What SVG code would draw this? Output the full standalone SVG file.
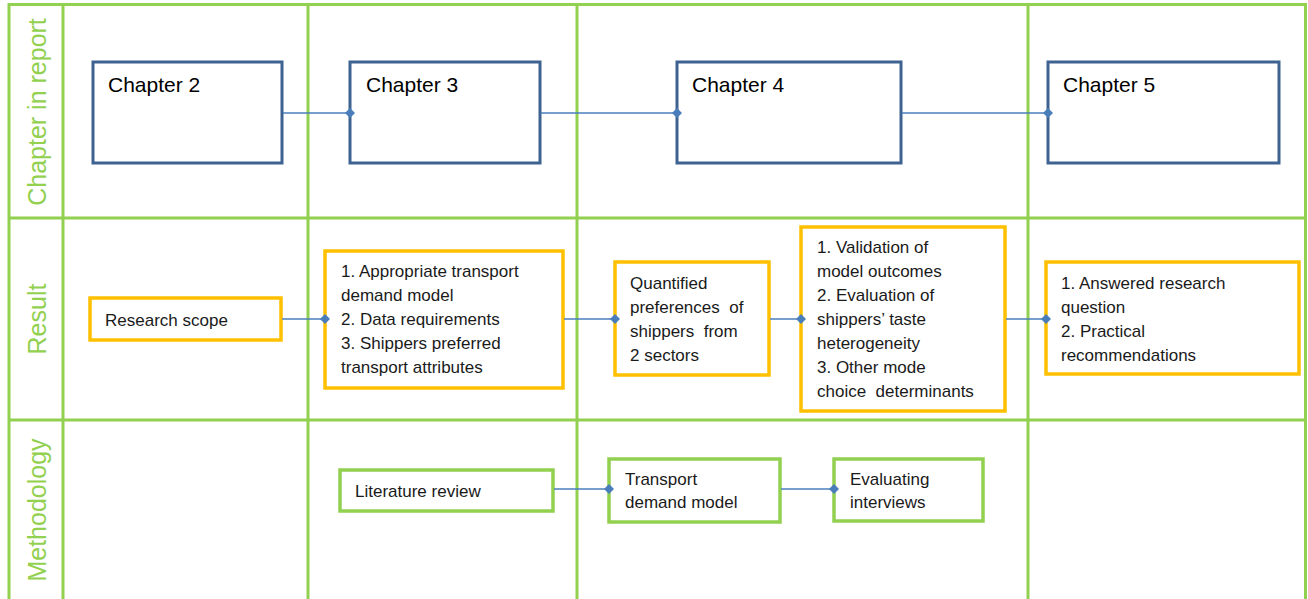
<svg xmlns="http://www.w3.org/2000/svg" width="1308" height="599" viewBox="0 0 1308 599">
<defs>
<marker id="dia" viewBox="0 0 10 10" refX="5" refY="5" markerWidth="10" markerHeight="10" markerUnits="userSpaceOnUse" orient="auto">
<path d="M0 5 L5 0 L10 5 L5 10 Z" fill="#4A7EBB"/>
</marker>
<style>
.grid{stroke:#92D050;stroke-width:3;fill:none}
.lbl{fill:#92D050;font-family:"Liberation Sans",Arial,sans-serif;font-size:25px}
.ch{fill:#fff;stroke:#3F6391;stroke-width:3}
.res{fill:#fff;stroke:#FFC000;stroke-width:3.5}
.met{fill:#fff;stroke:#92D050;stroke-width:3.5}
.t{fill:#1a1a1a;font-family:"Liberation Sans",Arial,sans-serif;font-size:17px;white-space:pre}
.tc{fill:#000;font-family:"Liberation Sans",Arial,sans-serif;font-size:21px}
.con{stroke:#4A7EBB;stroke-width:1.5;fill:none;marker-end:url(#dia)}
</style>
</defs>
<rect width="1308" height="599" fill="#fff"/>
<g id="grid">
<line class="grid" x1="9" y1="4.5" x2="1306" y2="4.5"/>
<line class="grid" x1="9" y1="218" x2="1306" y2="218"/>
<line class="grid" x1="9" y1="420" x2="1306" y2="420"/>
<line class="grid" x1="9" y1="3" x2="9" y2="599"/>
<line class="grid" x1="63" y1="3" x2="63" y2="599"/>
<line class="grid" x1="308" y1="3" x2="308" y2="599"/>
<line class="grid" x1="577" y1="3" x2="577" y2="599"/>
<line class="grid" x1="1028" y1="3" x2="1028" y2="599"/>
<line class="grid" x1="1305.5" y1="3" x2="1305.5" y2="599"/>
</g>
<g id="row-labels">
<text class="lbl" transform="translate(46,112) rotate(-90)" text-anchor="middle">Chapter in report</text>
<text class="lbl" transform="translate(46,319) rotate(-90)" text-anchor="middle">Result</text>
<text class="lbl" transform="translate(46,510) rotate(-90)" text-anchor="middle">Methodology</text>
</g>
<g id="chapter2"><rect class="ch" x="93" y="62" width="189" height="101"/><text class="tc" x="108" y="92">Chapter 2</text></g>
<g id="chapter3"><rect class="ch" x="350" y="62" width="190" height="101"/><text class="tc" x="366" y="92">Chapter 3</text></g>
<g id="chapter4"><rect class="ch" x="677" y="62" width="224" height="101"/><text class="tc" x="692" y="92">Chapter 4</text></g>
<g id="chapter5"><rect class="ch" x="1048" y="62" width="231" height="101"/><text class="tc" x="1063" y="92">Chapter 5</text></g>
<g id="research-scope"><rect class="res" x="90" y="298" width="191" height="42"/><text class="t" x="105" y="326">Research scope</text></g>
<g id="result-ch3"><rect class="res" x="325" y="251" width="238" height="137"/>
<text class="t"><tspan x="341" y="277">1. Appropriate transport</tspan><tspan x="341" y="301">demand model</tspan><tspan x="341" y="325">2. Data requirements</tspan><tspan x="341" y="349">3. Shippers preferred</tspan><tspan x="341" y="373">transport attributes</tspan></text></g>
<g id="result-quantified"><rect class="res" x="615" y="262" width="154" height="113"/>
<text class="t"><tspan x="630" y="289">Quantified</tspan><tspan x="630" y="313">preferences  of</tspan><tspan x="630" y="337">shippers  from</tspan><tspan x="630" y="361">2 sectors</tspan></text></g>
<g id="result-ch4b"><rect class="res" x="801" y="227" width="204" height="184"/>
<text class="t"><tspan x="817" y="253">1. Validation of</tspan><tspan x="817" y="277">model outcomes</tspan><tspan x="817" y="301">2. Evaluation of</tspan><tspan x="817" y="325">shippers’ taste</tspan><tspan x="817" y="349">heterogeneity</tspan><tspan x="817" y="373">3. Other mode</tspan><tspan x="817" y="397">choice  determinants</tspan></text></g>
<g id="result-ch5"><rect class="res" x="1046" y="262" width="253" height="112"/>
<text class="t"><tspan x="1061" y="289">1. Answered research</tspan><tspan x="1061" y="313">question</tspan><tspan x="1061" y="337">2. Practical</tspan><tspan x="1061" y="361">recommendations</tspan></text></g>
<g id="literature-review"><rect class="met" x="340" y="470" width="213" height="41"/><text class="t" x="355" y="497">Literature review</text></g>
<g id="transport-model"><rect class="met" x="609" y="459" width="171" height="63"/>
<text class="t"><tspan x="625" y="485">Transport</tspan><tspan x="625" y="508">demand model</tspan></text></g>
<g id="evaluating-interviews"><rect class="met" x="834" y="459" width="149" height="62"/>
<text class="t"><tspan x="850" y="485">Evaluating</tspan><tspan x="850" y="508">interviews</tspan></text></g>
<g id="connectors">
<line class="con" x1="283" y1="113" x2="350" y2="113"/>
<line class="con" x1="541" y1="113" x2="677" y2="113"/>
<line class="con" x1="902" y1="113" x2="1048" y2="113"/>
<line class="con" x1="282" y1="319" x2="325" y2="319"/>
<line class="con" x1="564" y1="319" x2="615" y2="319"/>
<line class="con" x1="770" y1="319" x2="801" y2="319"/>
<line class="con" x1="1006" y1="319" x2="1046" y2="319"/>
<line class="con" x1="554" y1="489" x2="609" y2="489"/>
<line class="con" x1="781" y1="489" x2="834" y2="489"/>
</g>
</svg>
